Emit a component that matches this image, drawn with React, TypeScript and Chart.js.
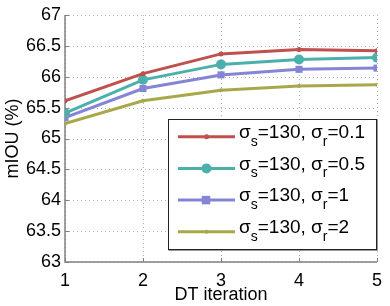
import React, { useEffect, useRef } from "react";
import { Chart, registerables } from "chart.js";

Chart.register(...registerables);

const ITERATIONS = [1, 2, 3, 4, 5];
const SERIES_01 = [65.61, 66.05, 66.37, 66.44, 66.42];
const SERIES_05 = [65.41, 65.95, 66.2, 66.28, 66.31];
const SERIES_1 = [65.34, 65.81, 66.03, 66.12, 66.14];
const SERIES_2 = [65.24, 65.61, 65.78, 65.85, 65.87];
const SIGMA_S = "130";
const SIGMA_R = ["0.1", "0.5", "1", "2"];
const COLORS = ["#c0504d", "#4bb0ac", "#8585d6", "#a8a84a"];
const POINT_STYLES = ["circle", "circle", "rect", "circle"];
const POINT_RADII = [2.5, 5, 5, 2];
const Y_MIN = 63;
const Y_MAX = 67;
const FONT = "'Liberation Sans', Arial, Helvetica, sans-serif";

const gridPlugin = {
  id: "dottedGrid",
  beforeDatasetsDraw(chart: any) {
    const ctx = chart.ctx as CanvasRenderingContext2D;
    const area = chart.chartArea;
    const xs = chart.scales.x;
    const ys = chart.scales.y;
    ctx.save();
    ctx.strokeStyle = "#b4b4b4";
    ctx.lineWidth = 1;
    ctx.setLineDash([1, 3]);
    xs.ticks.forEach((t: any) => {
      const px = Math.round(xs.getPixelForValue(t.value)) + 0.5;
      ctx.beginPath();
      ctx.moveTo(px, area.top);
      ctx.lineTo(px, area.bottom);
      ctx.stroke();
    });
    ys.ticks.forEach((t: any) => {
      const py = Math.round(ys.getPixelForValue(t.value)) + 0.5;
      ctx.beginPath();
      ctx.moveTo(area.left, py);
      ctx.lineTo(area.right, py);
      ctx.stroke();
    });
    ctx.setLineDash([]);
    ctx.strokeStyle = "#808080";
    ctx.lineWidth = 1.5;
    ctx.beginPath();
    ctx.moveTo(area.left, area.top);
    ctx.lineTo(area.left, area.bottom);
    ctx.lineTo(area.right, area.bottom);
    ctx.stroke();
    ctx.lineWidth = 1;
    xs.ticks.forEach((t: any) => {
      const px = Math.round(xs.getPixelForValue(t.value)) + 0.5;
      ctx.beginPath();
      ctx.moveTo(px, area.bottom);
      ctx.lineTo(px, area.bottom - 4);
      ctx.stroke();
    });
    ys.ticks.forEach((t: any) => {
      const py = Math.round(ys.getPixelForValue(t.value)) + 0.5;
      ctx.beginPath();
      ctx.moveTo(area.left, py);
      ctx.lineTo(area.left + 4, py);
      ctx.stroke();
    });
    ctx.restore();
  },
};

const legendPlugin = {
  id: "matlabLegend",
  afterDatasetsDraw(chart: any) {
    const ctx = chart.ctx as CanvasRenderingContext2D;
    const boxL = 168.5;
    const boxT = 119.5;
    const boxR = 376.5;
    const boxB = 249.5;
    ctx.save();
    ctx.fillStyle = "#ffffff";
    ctx.fillRect(boxL, boxT, boxR - boxL, boxB - boxT);
    ctx.strokeStyle = "#222222";
    ctx.lineWidth = 1;
    ctx.strokeRect(boxL, boxT, boxR - boxL, boxB - boxT);
    ctx.strokeStyle = "#999999";
    ctx.beginPath();
    ctx.moveTo(boxL, boxB + 1);
    ctx.lineTo(boxR + 1, boxB + 1);
    ctx.lineTo(boxR + 1, boxT);
    ctx.stroke();

    const rowY0 = 136.7;
    const rowStep = 31.7;
    chart.data.datasets.forEach((ds: any, i: number) => {
      const y = rowY0 + i * rowStep;
      ctx.strokeStyle = ds.borderColor;
      ctx.lineWidth = 3;
      ctx.beginPath();
      ctx.moveTo(178, y);
      ctx.lineTo(235, y);
      ctx.stroke();
      ctx.fillStyle = ds.borderColor;
      const r = ds.pointRadius;
      if (ds.pointStyle === "rect") {
        ctx.fillRect(206 - r * 0.85, y - r * 0.85, r * 1.7, r * 1.7);
      } else {
        ctx.beginPath();
        ctx.arc(206.5, y, r, 0, Math.PI * 2);
        ctx.fill();
      }
      ctx.fillStyle = "#000000";
      ctx.textBaseline = "middle";
      ctx.textAlign = "left";
      let x = 239;
      const ty = y - 4;
      const main = "19px " + FONT;
      const sub = "14px " + FONT;
      const parts: [string, boolean][] = [
        ["σ", false],
        ["s", true],
        ["=" + SIGMA_S + ", ", false],
        ["σ", false],
        ["r", true],
        ["=" + SIGMA_R[i], false],
      ];
      parts.forEach(([txt, isSub]) => {
        ctx.font = isSub ? sub : main;
        ctx.fillText(txt, x, isSub ? ty + 9 : ty);
        x += ctx.measureText(txt).width;
      });
    });
    ctx.restore();
  },
};

export default function App() {
  const canvasRef = useRef<HTMLCanvasElement | null>(null);

  useEffect(() => {
    document.body.style.margin = "0";
    const canvas = canvasRef.current;
    if (!canvas) return;
    const seriesList = [SERIES_01, SERIES_05, SERIES_1, SERIES_2];
    const chart = new Chart(canvas, {
      type: "line",
      data: {
        datasets: seriesList.map((vals, i) => ({
          label: "σs=" + SIGMA_S + ", σr=" + SIGMA_R[i],
          data: ITERATIONS.map((x, j) => ({ x, y: vals[j] })),
          borderColor: COLORS[i],
          backgroundColor: COLORS[i],
          borderWidth: 3,
          pointStyle: POINT_STYLES[i] as any,
          pointRadius: POINT_RADII[i],
          pointBorderWidth: 0,
          tension: 0,
          fill: false,
        })),
      },
      options: {
        animation: false,
        responsive: false,
        devicePixelRatio: 1,
        layout: { padding: { top: 15, right: 12, left: 0, bottom: 0 } },
        plugins: {
          legend: { display: false },
          tooltip: { enabled: false },
        },
        scales: {
          x: {
            type: "linear",
            min: 1,
            max: 5,
            afterFit: (s: any) => {
              s.height = 44;
            },
            ticks: {
              stepSize: 1,
              color: "#000",
              padding: 8,
              font: { family: FONT, size: 18 },
            },
            grid: { display: false, drawTicks: false, tickLength: 0 },
            border: { display: false },
            title: {
              display: true,
              text: "DT iteration",
              color: "#000",
              font: { family: FONT, size: 18 },
              padding: { top: 0, bottom: 0 },
            },
          },
          y: {
            type: "linear",
            min: Y_MIN,
            max: Y_MAX,
            afterFit: (s: any) => {
              s.width = 65;
            },
            ticks: {
              stepSize: 0.5,
              color: "#000",
              padding: 4,
              font: { family: FONT, size: 18 },
              callback: (v: any) => String(Number(v)),
            },
            grid: { display: false, drawTicks: false, tickLength: 0 },
            border: { display: false },
            title: {
              display: true,
              text: "mIOU (%)",
              color: "#000",
              font: { family: FONT, size: 18 },
              padding: { top: 2, bottom: 0 },
            },
          },
        },
      },
      plugins: [gridPlugin, legendPlugin],
    });
    return () => chart.destroy();
  }, []);

  return (
    <div style={{ width: 390, height: 306 }}>
      <canvas ref={canvasRef} width={390} height={306} style={{ display: "block" }} />
    </div>
  );
}
